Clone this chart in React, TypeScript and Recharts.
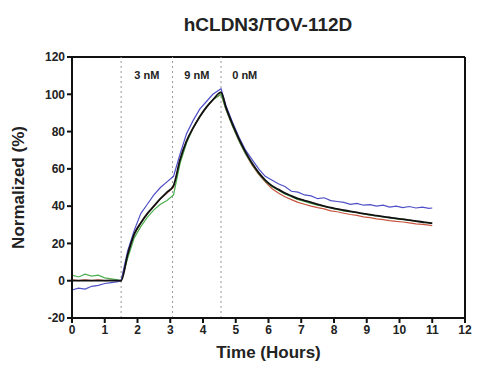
import {
  Line,
  LineChart,
  ReferenceArea,
  ReferenceLine,
  XAxis,
  YAxis,
} from "recharts";

const TIMES = [
  0, 0.2, 0.4, 0.6, 0.8, 1.0, 1.2, 1.4, 1.5, 1.7, 1.9, 2.1, 2.3, 2.5, 2.7, 2.9, 3.1, 3.3, 3.5, 3.7,
  3.9, 4.1, 4.3, 4.55, 4.7, 4.9, 5.1, 5.3, 5.5, 5.7, 5.9, 6.1, 6.3, 6.5, 6.7, 6.9, 7.1, 7.3, 7.5,
  7.7, 7.9, 8.1, 8.3, 8.5, 8.7, 8.9, 9.1, 9.3, 9.5, 9.7, 9.9, 10.1, 10.3, 10.5, 10.7, 10.9, 11.0,
];

// fitted curve
const FIT = [
  0, 0, 0, 0, 0, 0, 0, 0, 0, 14, 25, 31, 36, 40, 44, 47.5, 51, 65, 75, 82,
  88, 93, 97, 101, 93, 84, 76, 69, 63, 58, 54, 51, 49, 47, 45.5, 44, 43, 42, 41,
  40, 39.2, 38.5, 37.8, 37.2, 36.6, 36, 35.4, 34.9, 34.4, 33.9, 33.4, 33, 32.5, 32, 31.5, 31, 30.7,
];

const BLUE = [
  -5, -4, -4.5, -3, -2.5, -1.5, -1, -0.5, 0, 16, 27, 36, 41, 46, 50, 53, 56, 68, 79, 86,
  92, 96, 100, 103, 94, 85, 77, 70, 65, 60, 56, 54, 52, 50.5, 48, 47.5, 46, 45.5, 44,
  44.5, 43, 42.5, 42, 41, 41.5, 40.5, 40.8, 40, 40.5, 39.5, 40, 39.2, 39.8, 39, 39.5, 38.8, 39,
];

const GREEN = [
  3, 2, 3.5, 2.5, 3, 1.5, 1, 0.5, 0, 12, 23, 29, 34, 38, 41, 43, 46, 63, 74, 82,
  88, 93, 97, 100, 92, 83, 75, 68, 62.5, 57.5, 53.5, 50.5, 48.5, 46.5, 45, 43.5, 42.5, 41.5, 40.5,
  39.8, 39, 38.2, 37.5, 37, 36.5, 35.8, 35.2, 34.8, 34.2, 33.8, 33.2, 32.8, 32.5, 32, 31.5, 31.2, 31,
];

const RED = [
  0.5, 0, 0.5, 0, 0.5, 0, 0.3, 0, 0, 14, 25, 31, 36, 40, 44, 47, 50, 64, 75, 82,
  88, 93, 97, 100, 92, 83, 75, 68, 62, 57, 53, 49.5, 47, 45, 43.5, 42, 41, 40, 39.2,
  38.5, 37.5, 37, 36.2, 35.5, 35, 34.2, 33.8, 33.2, 32.8, 32.2, 31.8, 31.5, 31, 30.5, 30.2, 29.8, 29.5,
];

const X_TICKS = [0, 1, 2, 3, 4, 5, 6, 7, 8, 9, 10, 11, 12];
const Y_TICKS = [-20, 0, 20, 40, 60, 80, 100, 120];
const DOSE_LINES = [1.5, 3.07, 4.55];
const DOSES = [
  { label: "3 nM", from: 1.5, to: 3.07 },
  { label: "9 nM", from: 3.07, to: 4.55 },
  { label: "0 nM", from: 4.55, to: 6.0 },
];

const data = TIMES.map((t, i) => ({
  t,
  fit: FIT[i],
  blue: BLUE[i],
  green: GREEN[i],
  red: RED[i],
}));

const FONT = "Arial, 'Liberation Sans', sans-serif";
const tick = { fontSize: 12, fontWeight: 700, fill: "#222", fontFamily: FONT };

export default function App() {
  return (
    <div style={{ position: "absolute", left: 0, top: 0, width: 479, height: 372, background: "#fff" }}>
      <div
        style={{
          position: "absolute",
          left: 68,
          width: 400,
          top: 14,
          textAlign: "center",
          fontFamily: FONT,
          fontWeight: 700,
          fontSize: 19,
          color: "#222",
        }}
      >
        hCLDN3/TOV-112D
      </div>
      <LineChart width={479} height={372} data={data} margin={{ top: 57, right: 14, bottom: 14, left: 0 }}>
        <XAxis
          dataKey="t"
          type="number"
          domain={[0, 12]}
          ticks={X_TICKS}
          tick={tick}
          tickSize={5}
          axisLine={{ stroke: "#111", strokeWidth: 2 }}
          tickLine={{ stroke: "#111", strokeWidth: 2 }}
          height={40}
          label={{
            value: "Time (Hours)",
            position: "insideBottom",
            offset: 0,
            style: { fontSize: 17, fontWeight: 700, fill: "#222", fontFamily: FONT },
          }}
        />
        <YAxis
          type="number"
          domain={[-20, 120]}
          ticks={Y_TICKS}
          tick={tick}
          tickSize={5}
          axisLine={{ stroke: "#111", strokeWidth: 2 }}
          tickLine={{ stroke: "#111", strokeWidth: 2 }}
          width={72}
          label={{
            value: "Normalized (%)",
            angle: -90,
            position: "insideLeft",
            offset: 18,
            style: { textAnchor: "middle", fontSize: 17, fontWeight: 700, fill: "#222", fontFamily: FONT },
          }}
        />
        <ReferenceLine y={120} stroke="#111" strokeWidth={2} />
        <ReferenceLine x={12} stroke="#111" strokeWidth={2} />
        {DOSE_LINES.map((x) => (
          <ReferenceLine key={x} x={x} stroke="#999" strokeDasharray="2 3" />
        ))}
        {DOSES.map((d) => (
          <ReferenceArea
            key={d.label}
            x1={d.from}
            x2={d.to}
            y1={105}
            y2={116}
            fillOpacity={0}
            strokeOpacity={0}
            label={{
              value: d.label,
              position: "center",
              style: { fontSize: 11, fontWeight: 700, fill: "#222", fontFamily: FONT },
            }}
          />
        ))}
        <Line dataKey="red" stroke="#c8553f" strokeWidth={1.2} dot={false} type="linear" isAnimationActive={false} />
        <Line dataKey="green" stroke="#4caf50" strokeWidth={1.2} dot={false} type="linear" isAnimationActive={false} />
        <Line dataKey="blue" stroke="#4f4fc8" strokeWidth={1.2} dot={false} type="linear" isAnimationActive={false} />
        <Line dataKey="fit" stroke="#111" strokeWidth={1.8} dot={false} type="monotone" isAnimationActive={false} />
      </LineChart>
    </div>
  );
}
